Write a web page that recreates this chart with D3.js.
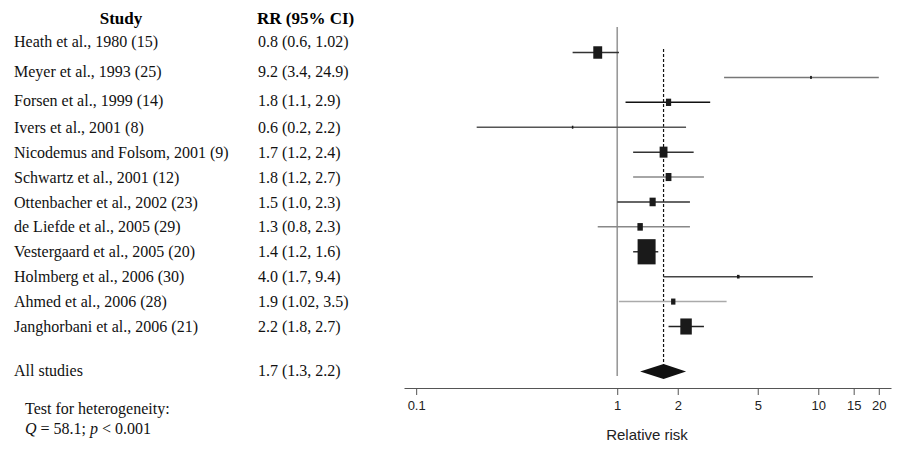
<!DOCTYPE html>
<html><head><meta charset="utf-8">
<script src="https://cdn.jsdelivr.net/npm/d3@7"></script>
<style>body{margin:0;background:#fff}svg{display:block}</style>
</head><body><svg id="c" width="922" height="454"></svg>
<script>
const studies = ["Heath et al., 1980 (15)","Meyer et al., 1993 (25)","Forsen et al., 1999 (14)","Ivers et al., 2001 (8)","Nicodemus and Folsom, 2001 (9)","Schwartz et al., 2001 (12)","Ottenbacher et al., 2002 (23)","de Liefde et al., 2005 (29)","Vestergaard et al., 2005 (20)","Holmberg et al., 2006 (30)","Ahmed et al., 2006 (28)","Janghorbani et al., 2006 (21)"];
const rr    = [0.8, 9.2, 1.8, 0.6, 1.7, 1.8, 1.5, 1.3, 1.4, 4.0, 1.9, 2.2];
const lower = [0.6, 3.4, 1.1, 0.2, 1.2, 1.2, 1.0, 0.8, 1.2, 1.7, 1.02, 1.8];
const upper = [1.02, 24.9, 2.9, 2.2, 2.4, 2.7, 2.3, 2.3, 1.6, 9.4, 3.5, 2.7];
const ciLabels = ["0.8 (0.6, 1.02)","9.2 (3.4, 24.9)","1.8 (1.1, 2.9)","0.6 (0.2, 2.2)","1.7 (1.2, 2.4)","1.8 (1.2, 2.7)","1.5 (1.0, 2.3)","1.3 (0.8, 2.3)","1.4 (1.2, 1.6)","4.0 (1.7, 9.4)","1.9 (1.02, 3.5)","2.2 (1.8, 2.7)"];
const weights = [10.5, 0.4, 3.6, 0.3, 8.2, 4.4, 5.0, 3.9, 43, 0.9, 2.5, 17.5];
const pooledLabel = "All studies";
const pooledRR = 1.7, pooledLower = 1.3, pooledUpper = 2.2;
const pooledCI = "1.7 (1.3, 2.2)";
const xTicks = [0.1, 1, 2, 5, 10, 15, 20];

// styles / layout
const lineColors = ["#333","#777","#111","#555","#333","#888","#333","#888","#333","#444","#aaa","#222"];
const labelShift = [-11,-6,-2,0,0,0,0,0,0,0,0,0];
const serif = "'Liberation Serif','Times New Roman',serif";
const sans = "'Liberation Sans',Arial,sans-serif";

const svg = d3.select("#c");
const x = d3.scaleLog().domain([0.087, 23]).range([404, 891]);
const y = d3.scaleLinear().domain([0, 11]).range([52.5, 326.5]);
const ySum = y(12.81);
const wS = d3.scaleSqrt().domain([0, 43]).range([0, 18]);

// headers
svg.append("text").attr("x",121).attr("y",18).attr("dy","0.35em").attr("text-anchor","middle")
  .attr("font-family",serif).attr("font-weight","bold").attr("font-size",17).text("Study");
svg.append("text").attr("x",257).attr("y",18).attr("dy","0.35em")
  .attr("font-family",serif).attr("font-weight","bold").attr("font-size",17).text("RR (95% CI)");

const rows = studies.map((s,i)=>({s, i, rr:rr[i], lo:lower[i], hi:upper[i], ci:ciLabels[i], w:weights[i]}));

const tg = svg.append("g").attr("font-family",serif).attr("font-size",16).attr("fill","#111");
tg.selectAll("text.st").data(rows).join("text").attr("class","st")
  .attr("x",14).attr("y",d=>y(d.i)+labelShift[d.i]).attr("dy","0.35em").text(d=>d.s);
tg.selectAll("text.ci").data(rows).join("text").attr("class","ci")
  .attr("x",258).attr("y",d=>y(d.i)+labelShift[d.i]).attr("dy","0.35em").text(d=>d.ci);
tg.append("text").attr("x",14).attr("y",370).attr("dy","0.35em").text(pooledLabel);
tg.append("text").attr("x",258).attr("y",370).attr("dy","0.35em").text(pooledCI);
const het1 = tg.append("text").attr("x",25).attr("y",408).attr("dy","0.35em").text("Test for heterogeneity:");
const het2 = tg.append("text").attr("x",25).attr("y",428).attr("dy","0.35em");
het2.append("tspan").attr("font-style","italic").text("Q");
het2.append("tspan").text(" = 58.1; ");
het2.append("tspan").attr("font-style","italic").text("p");
het2.append("tspan").text(" < 0.001");

// reference line at 1
svg.append("line").attr("x1",x(1)).attr("x2",x(1)).attr("y1",27).attr("y2",376)
  .attr("stroke","#999").attr("stroke-width",1.6);
// pooled dashed line
svg.append("line").attr("x1",x(pooledRR)).attr("x2",x(pooledRR)).attr("y1",49).attr("y2",376)
  .attr("stroke","#111").attr("stroke-width",1.2).attr("stroke-dasharray","3,2");

// CI lines
const xmax = x(20);
svg.selectAll("line.cil").data(rows).join("line").attr("class","cil")
  .attr("x1",d=>x(d.lo)).attr("x2",d=>Math.min(x(d.hi), xmax))
  .attr("y1",d=>y(d.i)).attr("y2",d=>y(d.i))
  .attr("stroke",d=>lineColors[d.i]).attr("stroke-width",1.5);

// boxes
svg.selectAll("rect.box").data(rows).join("rect").attr("class","box")
  .each(function(d){
    const w = Math.max(wS(d.w), 1.5);
    const h = Math.max(w*1.4, 3);
    d3.select(this).attr("x",x(d.rr)-w/2).attr("y",y(d.i)-h/2).attr("width",w).attr("height",h);
  })
  .attr("fill","#1a1a1a");

// diamond
svg.append("path").attr("d",
  `M${x(pooledLower)},${ySum} L${x(pooledRR)},${ySum-7.5} L${x(pooledUpper)},${ySum} L${x(pooledRR)},${ySum+7.5} Z`)
  .attr("fill","#111");

// axis
const ax = svg.append("g").attr("transform","translate(0,388)")
  .call(d3.axisBottom(x).tickValues(xTicks).tickFormat(d3.format("~g")).tickSize(7).tickSizeOuter(0));
ax.select(".domain").attr("stroke","#555");
ax.selectAll(".tick line").attr("stroke","#555");
ax.selectAll(".tick text").attr("font-family",sans).attr("font-size",13).attr("fill","#222").attr("dy","0.85em").attr("y",11);
svg.append("text").attr("x",647).attr("y",435).attr("dy","0.35em").attr("text-anchor","middle")
  .attr("font-family",sans).attr("font-size",15).attr("fill","#222").text("Relative risk");
</script>
</body></html>
